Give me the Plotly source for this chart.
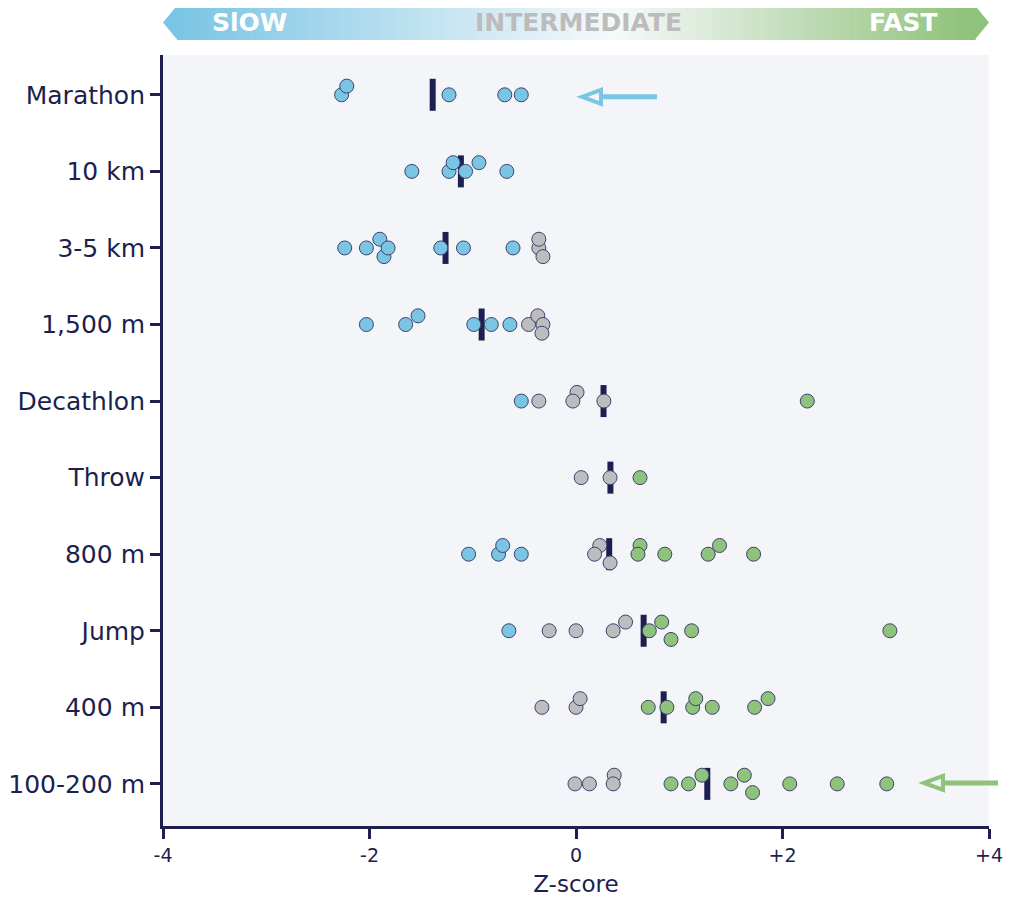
import numpy as np
import plotly.graph_objects as go

# ---- data (z-scores) ----
sports = ["Marathon", "10 km", "3-5 km", "1,500 m", "Decathlon",
          "Throw", "800 m", "Jump", "400 m", "100-200 m"]

marathon_z = [-2.27, -2.22, -1.23, -0.69, -0.53]
km10_z = [-1.59, -1.23, -1.19, -1.07, -0.94, -0.67]
km3_5_z = [-2.24, -2.03, -1.90, -1.86, -1.82, -1.31, -1.09, -0.61, -0.36, -0.32, -0.36]
m1500_z = [-2.03, -1.65, -1.53, -0.99, -0.82, -0.64, -0.46, -0.37, -0.32, -0.33]
decathlon_z = [-0.53, -0.36, 0.01, -0.03, 0.27, 2.24]
throw_z = [0.05, 0.33, 0.62]
m800_z = [-1.04, -0.75, -0.53, -0.71, 0.23, 0.18, 0.33, 0.62, 0.60, 0.86, 1.39, 1.28, 1.72]
jump_z = [-0.65, -0.26, 0.00, 0.36, 0.48, 0.71, 0.92, 0.83, 1.12, 3.04]
m400_z = [-0.33, 0.00, 0.04, 0.70, 0.88, 1.13, 1.16, 1.32, 1.86, 1.73]
m100_200_z = [-0.01, 0.13, 0.37, 0.36, 0.92, 1.09, 1.22, 1.63, 1.50, 1.71, 2.07, 2.53, 3.01]

all_z = [marathon_z, km10_z, km3_5_z, m1500_z, decathlon_z,
         throw_z, m800_z, jump_z, m400_z, m100_200_z]

x_ticks = [-4, -2, 0, 2, 4]
x_tick_labels = ["-4", "-2", "0", "+2", "+4"]
header_labels = ["SlOW", "INTERMEDIATE", "FAST"]

# ---- styling ----
NAVY = "#1c1f4f"
BLUE = "#7bc5e4"
GRAY = "#bdbdbf"
GREEN = "#8fc27a"
BG = "#f4f5f8"
FONT = "DejaVu Sans"

W, H = 1014, 901
OFF = 8  # page body margin
PX0, PX1, PY0, PY1 = 163, 989, 55, 826   # plot area on screen
PW, PH = PX1 - PX0, PY1 - PY0
L, T = PX0 - OFF, PY0 - OFF
R, B = W - L - PW, H - T - PH
Y_TOP, Y_BOT = -0.52, 9.55
px_per_x = PW / 8.0
px_per_y = PH / (Y_BOT - Y_TOP)
LANE_PX = 8.7
DIAM = 14


def color_of(z):
    if z < -0.5:
        return BLUE
    if z > 0.5:
        return GREEN
    return GRAY


def swarm(values):
    """simple greedy dodge: centre lane if free, else up/down"""
    order = np.argsort(values)
    placed = []
    lanes = [0] * len(values)
    for i in order:
        x = values[i] * px_per_x
        best, best_d = None, -1
        for lane in (0, -1, 1):
            d = min([np.hypot(x - px, (lane - pl) * LANE_PX) for px, pl in placed] or [99])
            if d >= DIAM:
                best = lane
                break
            if d > best_d:
                best, best_d = lane, d
        lanes[i] = best
        placed.append((x, best))
    return lanes


fig = go.Figure()

# mean bars
bx, by = [], []
half = 16 / px_per_y
for row, vals in enumerate(all_z):
    m = float(np.mean(vals))
    bx += [m, m, None]
    by += [row - half, row + half, None]
fig.add_trace(go.Scatter(x=bx, y=by, mode="lines", line=dict(color=NAVY, width=6),
                         hoverinfo="skip", showlegend=False))

# points
px_, py_, pc = [], [], []
for row, vals in enumerate(all_z):
    lanes = swarm(vals)
    for z, lane in zip(vals, lanes):
        px_.append(z)
        py_.append(row + lane * LANE_PX / px_per_y)
        pc.append(color_of(z))
fig.add_trace(go.Scatter(x=px_, y=py_, mode="markers",
                         marker=dict(size=DIAM, color=pc, line=dict(color="#3d4270", width=1)),
                         showlegend=False))


def pxx(p):
    return (p - PX0) / PW


def pxy(p):
    return (PY1 - p) / PH


def lerp(c1, c2, t):
    a = [int(c1[i:i + 2], 16) for i in (1, 3, 5)]
    b = [int(c2[i:i + 2], 16) for i in (1, 3, 5)]
    return "rgb(%d,%d,%d)" % tuple(round(a[k] + (b[k] - a[k]) * t) for k in range(3))


shapes = []
# gradient header bar
x0h, x1h, y0h, y1h = 177, 975, 5, 40
n = 140
for i in range(n):
    t = i / (n - 1)
    if t < 0.55:
        c = lerp(BLUE, "#f6f9fb", t / 0.55)
    else:
        c = lerp("#f6f9fb", GREEN, (t - 0.55) / 0.45)
    xa = x0h + (x1h - x0h) * i / n
    xb = x0h + (x1h - x0h) * (i + 1) / n + 0.6
    shapes.append(dict(type="rect", xref="paper", yref="paper", x0=pxx(xa), x1=pxx(xb),
                       y0=pxy(y1h), y1=pxy(y0h), fillcolor=c, line=dict(width=0), layer="below"))
ym = (y0h + y1h) / 2
shapes.append(dict(type="path", xref="paper", yref="paper",
                   path=f"M {pxx(163)},{pxy(ym)} L {pxx(x0h + 0.5)},{pxy(y0h)} L {pxx(x0h + 0.5)},{pxy(y1h)} Z",
                   fillcolor=BLUE, line=dict(width=0), layer="below"))
shapes.append(dict(type="path", xref="paper", yref="paper",
                   path=f"M {pxx(989)},{pxy(ym)} L {pxx(x1h - 0.5)},{pxy(y0h)} L {pxx(x1h - 0.5)},{pxy(y1h)} Z",
                   fillcolor=GREEN, line=dict(width=0), layer="below"))


# hand-drawn style arrows pointing at first/last rows
def arrow(tip_px, tail_px, y_px, col):
    tri_w, tri_h = 19, 7
    shapes.append(dict(type="path", xref="paper", yref="paper",
                       path=f"M {pxx(tip_px)},{pxy(y_px)} L {pxx(tip_px + tri_w)},{pxy(y_px - tri_h)} "
                            f"L {pxx(tip_px + tri_w)},{pxy(y_px + tri_h)} Z",
                       line=dict(color=col, width=4), fillcolor="rgba(0,0,0,0)"))
    shapes.append(dict(type="line", xref="paper", yref="paper",
                       x0=pxx(tip_px + tri_w), x1=pxx(tail_px), y0=pxy(y_px), y1=pxy(y_px),
                       line=dict(color=col, width=5)))


row_px = lambda r: PY0 + (r - Y_TOP) * px_per_y
arrow(582, 657, row_px(0) + 2, BLUE)
arrow(924, 998, row_px(9) - 1, GREEN)

annotations = []
for lab, xc, col in zip(header_labels, [249, 578, 903], ["white", "#bcbcbc", "white"]):
    annotations.append(dict(text=f"<b>{lab}</b>", xref="paper", yref="paper",
                            x=pxx(xc), y=pxy(ym), xanchor="center", yanchor="middle",
                            showarrow=False, font=dict(family=FONT, size=25, color=col)))

fig.update_layout(
    width=W, height=H,
    margin=dict(l=L, r=R, t=T, b=B),
    paper_bgcolor="white", plot_bgcolor=BG,
    font=dict(family=FONT, color=NAVY),
    shapes=shapes, annotations=annotations,
    xaxis=dict(range=[-4, 4], tickvals=x_ticks, ticktext=x_tick_labels, automargin=False,
               showgrid=False, zeroline=False, showline=True, linecolor=NAVY, linewidth=3,
               ticks="outside", ticklen=10, tickwidth=2.5, tickcolor=NAVY,
               tickfont=dict(size=19, color=NAVY),
               title=dict(text="Z-score", font=dict(size=23, color=NAVY), standoff=12)),
    yaxis=dict(range=[Y_BOT, Y_TOP], tickvals=list(range(len(sports))), ticktext=sports,
               automargin=False,
               showgrid=False, zeroline=False, showline=True, linecolor=NAVY, linewidth=3,
               ticks="outside", ticklen=10, tickwidth=2.5, tickcolor=NAVY,
               tickfont=dict(size=25, color=NAVY)),
)

fig.write_html("out.html")
